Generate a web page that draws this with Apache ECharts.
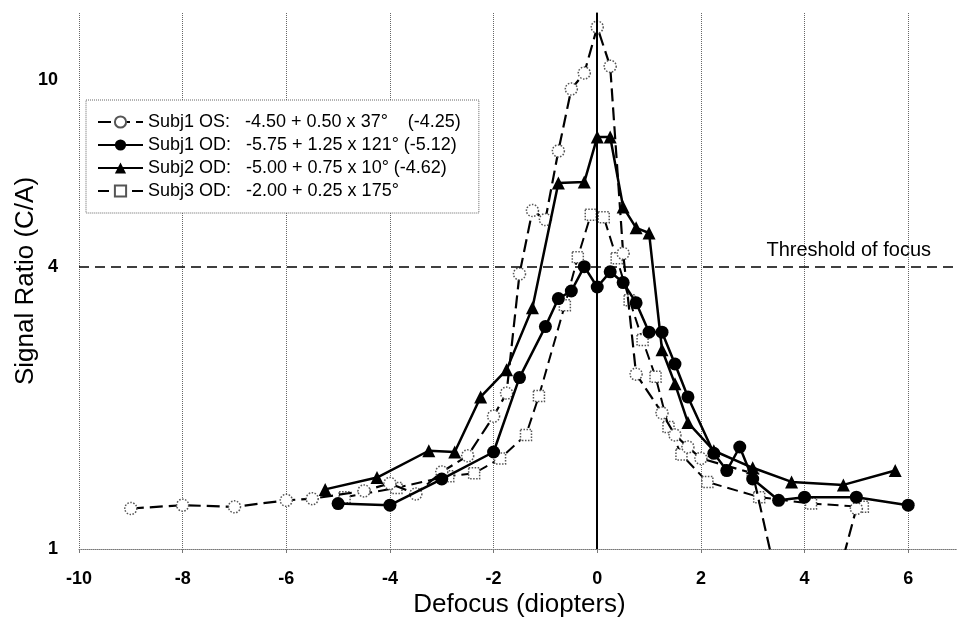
<!DOCTYPE html>
<html>
<head>
<meta charset="utf-8">
<script src="https://cdn.jsdelivr.net/npm/echarts@6/dist/echarts.min.js"></script>
<style>
  html, body { margin: 0; padding: 0; background: #fff; }
  #chart { width: 957px; height: 620px; }
</style>
</head>
<body>
<div id="chart"></div>
<script>
// defocus (diopters) and signal ratio (C/A)
const subj1OsX = [-9, -8, -7, -6, -5.5, -4.5, -4, -3.5, -3, -2.5, -2, -1.75, -1.5, -1.25, -1, -0.75, -0.5, -0.25, 0, 0.25, 0.5, 0.75, 1.25, 1.5, 1.75, 2, 3, 4, 5];
const subj1OsY = [1.22, 1.24, 1.23, 1.27, 1.28, 1.33, 1.38, 1.31, 1.46, 1.58, 1.92, 2.15, 3.86, 5.27, 5.04, 7.06, 9.57, 10.35, 12.97, 10.7, 4.27, 2.36, 1.95, 1.75, 1.65, 1.56, 1.45, 0.47, 1.22];

const subj1OdX = [-5, -4, -3, -2, -1.5, -1, -0.75, -0.5, -0.25, 0, 0.25, 0.5, 0.75, 1, 1.25, 1.5, 1.75, 2.25, 2.5, 2.75, 3, 3.5, 4, 5, 6];
const subj1OdY = [1.25, 1.24, 1.41, 1.61, 2.32, 2.98, 3.42, 3.55, 4.0, 3.62, 3.9, 3.7, 3.35, 2.9, 2.9, 2.48, 2.11, 1.6, 1.47, 1.65, 1.41, 1.27, 1.29, 1.29, 1.24];

const subj2OdX = [-5.25, -4.25, -3.25, -2.75, -2.25, -1.75, -1.25, -0.75, -0.25, 0, 0.25, 0.5, 0.75, 1, 1.25, 1.5, 1.75, 2.25, 3, 3.75, 4.75, 5.75];
const subj2OdY = [1.34, 1.42, 1.62, 1.61, 2.11, 2.41, 3.27, 6.03, 6.06, 7.56, 7.56, 5.36, 4.84, 4.72, 2.66, 2.25, 1.86, 1.62, 1.49, 1.39, 1.37, 1.47];

const subj3OdX = [-4.875, -3.875, -2.875, -2.375, -1.875, -1.375, -1.125, -0.625, -0.375, -0.125, 0.125, 0.375, 0.625, 0.875, 1.125, 1.375, 1.625, 2.125, 3.125, 4.125, 5.125];
const subj3OdY = [1.29, 1.35, 1.43, 1.45, 1.56, 1.75, 2.12, 3.31, 4.19, 5.16, 5.1, 4.17, 3.39, 2.79, 2.33, 1.82, 1.59, 1.39, 1.29, 1.25, 1.23];

const seriesNames = ['Subj1 OS', 'Subj1 OD', 'Subj2 OD', 'Subj3 OD'];
const legendText = {
  'Subj1 OS': 'Subj1 OS:   -4.50 + 0.50 x 37°    (-4.25)',
  'Subj1 OD': 'Subj1 OD:   -5.75 + 1.25 x 121° (-5.12)',
  'Subj2 OD': 'Subj2 OD:   -5.00 + 0.75 x 10° (-4.62)',
  'Subj3 OD': 'Subj3 OD:   -2.00 + 0.25 x 175°'
};
const yLabels = [1, 4, 10];
const threshold = 4;

function pairs(xs, ys) {
  return xs.map((x, i) => [x, ys[i]]);
}

const font = '"Liberation Sans", Arial, sans-serif';
const chart = echarts.init(document.getElementById('chart'));

const openMarker = {
  color: '#fff',
  borderColor: '#555',
  borderWidth: 1.5,
  borderType: 'dotted'
};

chart.setOption({
  animation: false,
  backgroundColor: '#fff',
  textStyle: { fontFamily: font },
  grid: {
    left: 79,
    right: -3,
    top: 13,
    bottom: 71,
    outerBoundsMode: 'none'
  },
  legend: {
    data: seriesNames,
    orient: 'vertical',
    left: 86,
    top: 100,
    padding: [13, 18, 13, 11],
    itemWidth: 45,
    itemHeight: 14,
    itemGap: 5,
    itemTextGap: 10,
    selectedMode: false,
    backgroundColor: '#fff',
    borderColor: '#666',
    borderWidth: 1,
    borderType: 'dotted',
    textStyle: { fontSize: 18, lineHeight: 18, color: '#000', fontFamily: font },
    formatter: (name) => legendText[name]
  },
  xAxis: {
    type: 'value',
    min: -10,
    max: 7,
    interval: 2,
    name: 'Defocus (diopters)',
    nameLocation: 'middle',
    nameGap: 43,
    nameMoveOverlap: false,
    nameTextStyle: { fontSize: 26, color: '#000', fontFamily: font },
    axisLine: { onZero: false, lineStyle: { color: '#777', type: 'dotted', width: 1 } },
    axisTick: { show: true, length: 4, lineStyle: { color: '#777' } },
    axisLabel: {
      margin: 21,
      fontSize: 18,
      fontWeight: 'bold',
      color: '#000',
      fontFamily: font,
      formatter: (v) => (v % 2 === 0 ? String(v) : '')
    },
    splitLine: { show: true, lineStyle: { color: '#666', type: 'dotted', width: 1 } }
  },
  yAxis: {
    type: 'log',
    logBase: 10,
    min: 1,
    max: 13.9,
    name: 'Signal Ratio (C/A)',
    nameLocation: 'middle',
    nameGap: 40,
    nameMoveOverlap: false,
    nameTextStyle: { fontSize: 26, color: '#000', fontFamily: font },
    axisLine: { show: true, lineStyle: { color: '#000', width: 1.5 } },
    axisTick: { show: false },
    axisLabel: {
      customValues: yLabels,
      margin: 21,
      fontSize: 18,
      fontWeight: 'bold',
      color: '#000',
      fontFamily: font
    },
    splitLine: { show: false }
  },
  series: [
    {
      name: 'Subj3 OD',
      type: 'line',
      data: pairs(subj3OdX, subj3OdY),
      symbol: 'rect',
      symbolSize: 11,
      itemStyle: openMarker,
      lineStyle: { color: '#000', width: 2, type: [11, 6] },
      z: 2
    },
    {
      name: 'Subj1 OS',
      type: 'line',
      data: pairs(subj1OsX, subj1OsY),
      symbol: 'circle',
      symbolSize: 12,
      itemStyle: openMarker,
      lineStyle: { color: '#000', width: 2.2, type: [13, 6] },
      z: 3,
      markLine: {
        silent: true,
        symbol: 'none',
        animation: false,
        data: [
          {
            xAxis: 0,
            lineStyle: { color: '#000', width: 2, type: 'solid' },
            label: { show: false }
          },
          {
            yAxis: threshold,
            lineStyle: { color: '#000', width: 1.6, type: [10, 6] },
            label: {
              show: true,
              position: 'insideEndTop',
              distance: [29, 6],
              formatter: 'Threshold of focus',
              fontSize: 20,
              color: '#000',
              fontFamily: font
            }
          }
        ]
      }
    },
    {
      name: 'Subj2 OD',
      type: 'line',
      data: pairs(subj2OdX, subj2OdY),
      symbol: 'triangle',
      symbolSize: 13,
      itemStyle: { color: '#000' },
      lineStyle: { color: '#000', width: 2.5 },
      z: 4
    },
    {
      name: 'Subj1 OD',
      type: 'line',
      data: pairs(subj1OdX, subj1OdY),
      symbol: 'circle',
      symbolSize: 13,
      itemStyle: { color: '#000' },
      lineStyle: { color: '#000', width: 2.5 },
      z: 5
    }
  ]
});
</script>
</body>
</html>
